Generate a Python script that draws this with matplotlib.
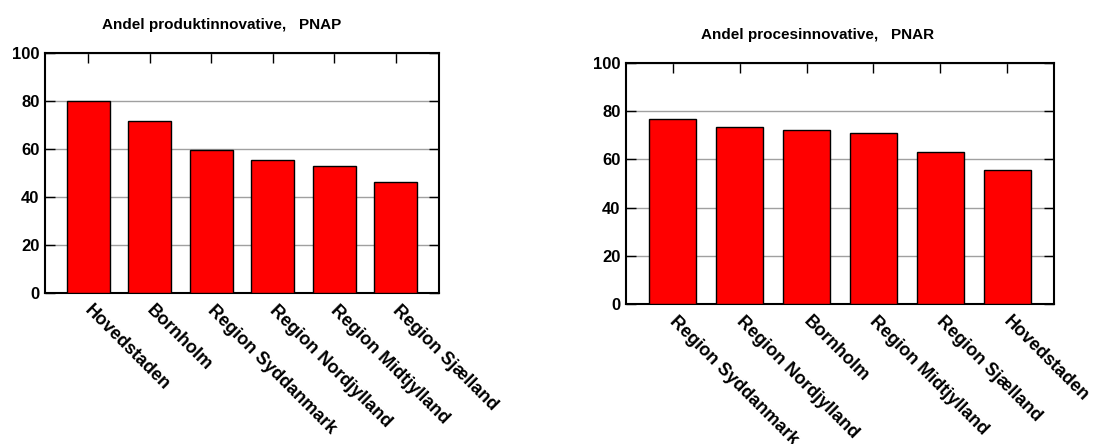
import matplotlib
matplotlib.use("Agg")
import matplotlib.pyplot as plt
from matplotlib import font_manager
from matplotlib.transforms import ScaledTranslation

# data
prod_regions = ["Hovedstaden", "Bornholm", "Region Syddanmark", "Region Nordjylland",
                "Region Midtjylland", "Region Sjælland"]
prod_values = [80.0, 71.7, 59.5, 55.4, 52.8, 46.1]

proc_regions = ["Region Syddanmark", "Region Nordjylland", "Bornholm", "Region Midtjylland",
                "Region Sjælland", "Hovedstaden"]
proc_values = [76.7, 73.4, 72.3, 70.8, 63.2, 55.5]

titles = ["Andel produktinnovative,   PNAP", "Andel procesinnovative,   PNAR"]

names = {f.name for f in font_manager.fontManager.ttflist}
family = "Liberation Sans Narrow" if "Liberation Sans Narrow" in names else "Liberation Sans"
plt.rcParams["font.family"] = [family, "DejaVu Sans"]
plt.rcParams["font.weight"] = "bold"

W, H = 1095, 444
fig = plt.figure(figsize=(W / 100, H / 100), dpi=100)

# axes boxes in pixels: left, top, right, bottom
boxes = [(45, 53, 439, 293), (626, 63, 1054, 304)]
title_pos = [(222, 25), (818, 35)]

for (regions, values, title, box, tpos) in zip(
        [prod_regions, proc_regions], [prod_values, proc_values], titles, boxes, title_pos):
    l, t, r, b = box
    ax = fig.add_axes([l / W, 1 - b / H, (r - l) / W, (b - t) / H])
    x = list(range(len(regions)))
    ax.bar(x, values, width=0.7, color="#ff0000", edgecolor="black", linewidth=1.0, zorder=3)
    ax.set_xlim(-0.7, len(regions) - 0.3)
    ax.set_ylim(0, 100)
    ax.set_yticks([0, 20, 40, 60, 80, 100])
    ax.yaxis.grid(True, color="#a0a0a0", linewidth=1.0, zorder=0)
    ax.set_axisbelow(True)
    ax.set_xticks(x)
    ax.set_xticklabels([])
    # rotated category labels, nudged so the first glyph sits at the tick
    trans = ax.get_xaxis_transform() + ScaledTranslation(5 / 100, -9 / 100, fig.dpi_scale_trans)
    for xi, name in zip(x, regions):
        ax.text(xi, 0, name, transform=trans, rotation=-45, rotation_mode="anchor",
                ha="left", va="top", fontsize=13, fontweight="bold", clip_on=False)
    ax.tick_params(axis="x", direction="in", length=7, width=1, top=True)
    ax.tick_params(axis="y", direction="in", length=7, width=1, right=True, labelsize=12, pad=4)
    for lab in ax.get_yticklabels():
        lab.set_fontweight("bold")
    for s in ax.spines.values():
        s.set_linewidth(1.5)
    fig.text(tpos[0] / W, 1 - tpos[1] / H, title, ha="center", va="center",
             fontsize=11, fontweight="bold")

fig.savefig("out.png", dpi=100)
